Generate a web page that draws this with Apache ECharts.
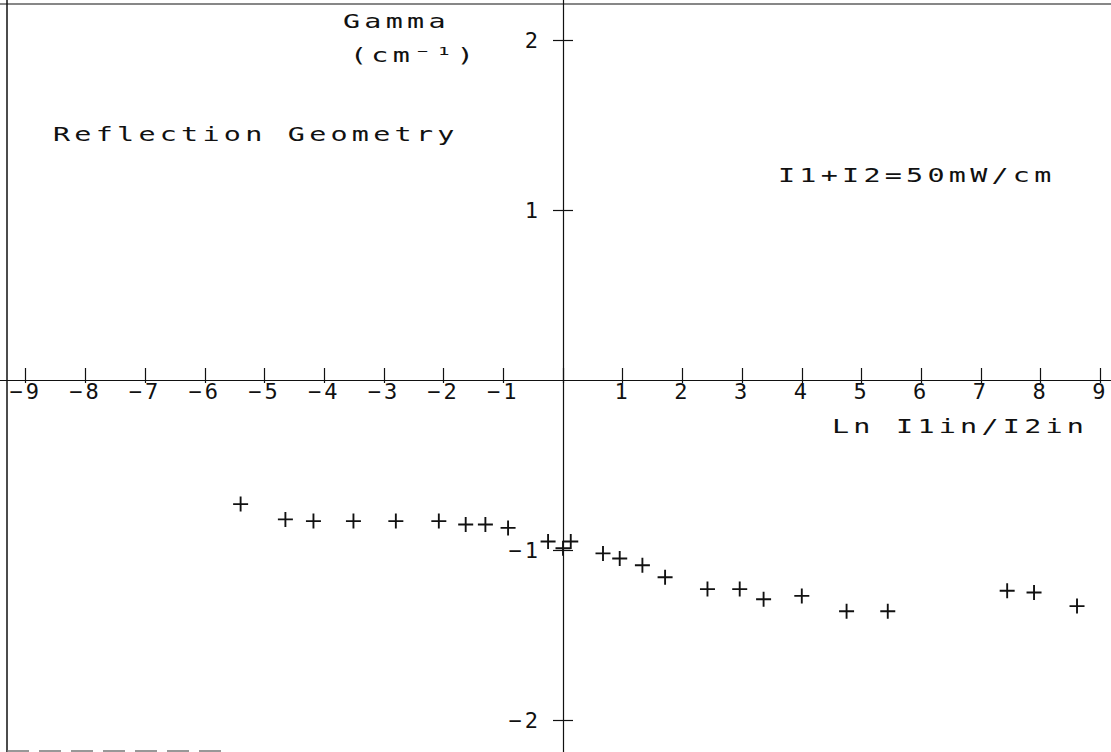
<!DOCTYPE html>
<html>
<head>
<meta charset="utf-8">
<title>Gamma vs Ln I1in/I2in</title>
<script src="https://cdn.jsdelivr.net/npm/echarts@6/dist/echarts.min.js"></script>
<style>
  html, body { margin: 0; padding: 0; background: #fff; }
  #chart { width: 1111px; height: 752px; }
  /* plotter-style lettering: a little extra room between glyphs */
  #chart text { letter-spacing: 3px; }
</style>
</head>
<body>
<div id="chart"></div>
<script>
// Ln(I1in/I2in) for each measurement
const lnRatio = [-5.40, -4.65, -4.18, -3.51, -2.80, -2.08, -1.63, -1.30, -0.92, -0.25,
                 0.00, 0.13, 0.67, 0.95, 1.33, 1.71, 2.42, 2.96, 3.36, 4.00,
                 4.75, 5.44, 7.44, 7.89, 8.61];
// gain coefficient Gamma (cm^-1)
const gamma = [-0.73, -0.82, -0.83, -0.83, -0.83, -0.83, -0.85, -0.85, -0.87, -0.95,
               -0.99, -0.95, -1.02, -1.05, -1.09, -1.16, -1.23, -1.23, -1.29, -1.27,
               -1.36, -1.36, -1.24, -1.25, -1.33];
// labelled ticks
const xTicks = [-9, -8, -7, -6, -5, -4, -3, -2, -1, 1, 2, 3, 4, 5, 6, 7, 8, 9];
const yTicks = [-2, -1, 1, 2];

const X_MIN = -10, X_MAX = 10, Y_MIN = -3, Y_MAX = 3;

const INK = '#111';
const FONT = 'DejaVu Sans Mono';
const minus = v => String(v).replace('-', '\u2212');

const points = lnRatio.map((x, i) => [x, gamma[i]]);
const plus = 'path://M7,0h2v7h7v2h-7v7h-2v-7h-7v-2h7z';

const chart = echarts.init(document.getElementById('chart'), null, { renderer: 'svg' });

// The data area; the two crossing axes live in their own grids whose edges
// run through the origin of the data area (x = 0 at px 563, y = 0 at px 380).
const PLOT = { left: -34, right: -49, top: -130, bottom: -138 };
const grids = [
  Object.assign({}, PLOT),                         // data
  Object.assign({}, PLOT, { bottom: 752 - 380 }),  // horizontal axis at y = 0
  Object.assign({}, PLOT, { left: 563 })           // vertical axis at x = 0
].map(g => Object.assign(g, { outerBoundsMode: 'none', containLabel: false }));

const tickStyle = { color: INK, width: 1.2 };
const hidden = { show: false };

const xScale = { type: 'value', min: X_MIN, max: X_MAX, interval: 1, splitLine: hidden };
const yScale = { type: 'value', min: Y_MIN, max: Y_MAX, interval: 1, splitLine: hidden };

// wide plotter lettering for the free-standing captions
function caption(text, x, y) {
  return {
    type: 'text', x: x, y: y, scaleX: 1.42,
    style: { text: text, x: 0, y: 0, font: '20px ' + FONT, fill: INK,
             textAlign: 'left', textVerticalAlign: 'middle' }
  };
}

chart.setOption({
  animation: false,
  backgroundColor: '#fff',
  grid: grids,
  xAxis: [
    Object.assign({}, xScale, { gridIndex: 0, show: false }),
    Object.assign({}, xScale, {
      gridIndex: 1, position: 'bottom',
      axisLine: { show: true, onZero: false, lineStyle: { color: INK, width: 1.2 } },
      axisTick: { show: true, inside: false, length: 3, lineStyle: tickStyle },
      axisLabel: {
        margin: 0, color: INK, fontSize: 22, fontFamily: FONT,
        formatter: v => xTicks.includes(v) ? minus(v) : ''
      }
    }),
    Object.assign({}, xScale, {
      gridIndex: 1, position: 'bottom',
      axisLine: { show: false, onZero: false },
      axisTick: { show: true, inside: true, length: 12, lineStyle: tickStyle },
      axisLabel: hidden
    }),
    Object.assign({}, xScale, { gridIndex: 2, show: false })
  ],
  yAxis: [
    Object.assign({}, yScale, { gridIndex: 0, show: false }),
    Object.assign({}, yScale, { gridIndex: 1, show: false }),
    Object.assign({}, yScale, {
      gridIndex: 2, position: 'left',
      axisLine: { show: true, onZero: false, lineStyle: { color: INK, width: 1.2 } },
      axisTick: { show: true, inside: false, length: 10, lineStyle: tickStyle, customValues: yTicks },
      axisLabel: {
        margin: 22, color: INK, fontSize: 22, fontFamily: FONT,
        formatter: v => yTicks.includes(v) ? minus(v) : ''
      }
    }),
    Object.assign({}, yScale, {
      gridIndex: 2, position: 'left',
      axisLine: { show: false, onZero: false },
      axisTick: { show: true, inside: true, length: 10, lineStyle: tickStyle, customValues: yTicks },
      axisLabel: hidden
    })
  ],
  series: [{
    type: 'scatter',
    xAxisIndex: 0, yAxisIndex: 0,
    data: points,
    symbol: plus,
    symbolSize: 15,
    itemStyle: { color: INK, opacity: 1 }
  }],
  graphic: [
    // plot frame
    { type: 'line', shape: { x1: 7, y1: 0, x2: 7, y2: 752 }, style: { stroke: INK, lineWidth: 1.5 } },
    { type: 'line', shape: { x1: 0, y1: 4, x2: 1111, y2: 4 }, style: { stroke: INK, lineWidth: 1.2 } },
    { type: 'line', shape: { x1: 7, y1: 751, x2: 230, y2: 751 }, style: { stroke: '#777', lineWidth: 1.5, lineDash: [22, 10] } },
    // titles and annotations
    caption('Gamma', 343, 21),
    caption('(cm\u207B\u00B9)', 350, 55),
    caption('Reflection Geometry', 53, 134),
    caption('I1+I2=50mW/cm', 778, 175),
    caption('Ln I1in/I2in', 832, 426)
  ]
});
</script>
</body>
</html>
